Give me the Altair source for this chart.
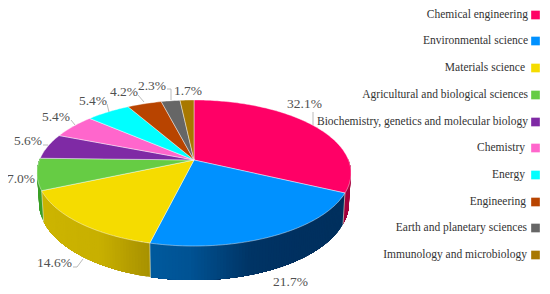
import numpy as np
import altair as alt

categories = ["Chemical engineering", "Environmental science", "Materials science",
              "Agricultural and biological sciences", "Biochemistry, genetics and molecular biology",
              "Chemistry", "Energy", "Engineering", "Earth and planetary sciences",
              "Immunology and microbiology"]
values = [32.1, 21.7, 14.6, 7.0, 5.6, 5.4, 5.4, 4.2, 2.3, 1.7]
colors = ["#FF0066", "#0091FF", "#F5DC00", "#66CC44", "#7F2AA5",
          "#FF66CC", "#00FFFF", "#B84400", "#666666", "#A87800"]
labels = ["32.1%", "21.7%", "14.6%", "7.0%", "5.6%", "5.4%", "5.4%", "4.2%", "2.3%", "1.7%"]

# --- layout only (page pixels; the page margin is removed below) ---
M = 8
CX, CY = 194.0, 160.0
A, B, K = 154.5, 70.7, 0.178
A2, B2, Y2 = 152.5, 74.9, 189.0
label_xy = [(304.5, 104), (290.5, 282), (54.5, 263), (21, 179), (28, 141),
            (56, 117), (93, 101), (124, 92), (152, 86), (188, 91)]
legend_y = [15, 41, 68, 95, 122, 148, 175, 202, 228, 255]
legend_right = [528, 528, 525, 528, 528, 525, 525, 526, 527, 527]
leaders = [[(313, 112), (313, 125)],
           [(73, 267), (77, 267), (83, 259)],
           [(43, 145), (48, 145)],
           [(71, 120), (75, 125)],
           [(107, 104), (109, 112)],
           [(138, 95), (144, 102)],
           [(167, 89), (171, 89), (171, 100)]]
side_stops = {
    0: [(330, "#8A0038"), (350, "#A8003E")],
    1: [(150, "#005A9E"), (190, "#005394"), (250, "#003566"), (300, "#003060"), (350, "#00305E")],
    2: [(42, "#CDB500"), (100, "#C8B000"), (125, "#B8A000"), (152, "#A69000")],
    3: [(30, "#3CA028"), (50, "#3CA028")],
}


def top(theta):
    s, c = np.sin(theta), np.cos(theta)
    d = 1 + K * c
    return CX + A * s / d - M, CY - B * c / d - M


def bottom(theta):
    s, c = np.sin(theta), np.cos(theta)
    d = 1 + K * c
    return CX + A2 * s / d - M, Y2 - B2 * c / d - M


def feature(kind, coords, color):
    return {"type": "Feature", "properties": {"c": color},
            "geometry": {"type": kind, "coordinates": coords}}


edges = np.radians(np.concatenate([[0], np.cumsum(values)]) * 3.6)

side, top_faces, seams = [], [], []
for i, (a0, a1) in enumerate(zip(edges[:-1], edges[1:])):
    # upper face of the slice
    ts = np.linspace(a0, a1, max(4, int(np.degrees(a1 - a0))))
    ring = [[CX - M, CY - M]] + [[float(p) for p in top(t)] for t in ts] + [[CX - M, CY - M]]
    top_faces.append(feature("Polygon", [ring], colors[i]))
    # rim of the slice: painted from the far end so each band overlaps the last
    if i in side_stops:
        lo = max(a0, np.radians(88))
        hi = min(a1, np.radians(272))
        if hi > lo:
            steps = np.linspace(lo, hi, int(np.degrees(hi - lo)) + 2)
            sx = [p[0] for p in side_stops[i]]
            rgb = [[int(p[1][j:j + 2], 16) for j in (1, 3, 5)] for p in side_stops[i]]
            for n in range(len(steps) - 1):
                t0, t1 = steps[n], steps[n + 1]
                xm = top((t0 + t1) / 2)[0] + M
                col = "#%02x%02x%02x" % tuple(int(np.interp(xm, sx, [r[j] for r in rgb])) for j in range(3))
                # each band reaches back to the end of the slice; the next band paints over it
                tail = np.linspace(t0, hi, max(2, int(np.degrees(hi - t0)) + 1))
                q = [top(t) for t in tail] + [bottom(t) for t in tail[::-1]] + [top(t0)]
                side.append(feature("Polygon", [[[float(v) for v in p] for p in q]], col))
    if np.radians(100) < a1 < np.radians(260):
        seams.append(feature("LineString", [[float(v) for v in top(a1)], [float(v) for v in bottom(a1)]], "#e8e8d0"))

PROJ = dict(type="identity", scale=1, translate=[0, 0])


def geo(feats):
    return alt.Data(values={"type": "FeatureCollection", "features": feats},
                    format=alt.DataFormat(property="features", type="json"))


side_layer = alt.Chart(geo(side)).mark_geoshape(strokeWidth=0).encode(
    fill=alt.Fill("properties.c:N", scale=None, legend=None),
).project(**PROJ)

seam_layer = alt.Chart(geo(seams)).mark_geoshape(filled=False, strokeWidth=0.8, strokeOpacity=0.8, stroke="#e8e8d0").project(**PROJ)

top_layer = alt.Chart(geo(top_faces)).mark_geoshape(
    stroke="#ffffff", strokeWidth=0.7, strokeOpacity=0.6, strokeJoin="round"
).encode(fill=alt.Fill("properties.c:N", scale=None, legend=None)).project(**PROJ)

leader_layer = alt.Chart(geo([
    feature("LineString", [[x - M, y - M] for x, y in line], "#aaaaaa") for line in leaders
])).mark_geoshape(filled=False, stroke="#a8a8a8", strokeWidth=0.8).project(**PROJ)

X = lambda f: alt.X(f, scale=None, axis=None)
Y = lambda f: alt.Y(f, scale=None, axis=None)

pct_layer = alt.Chart(alt.Data(values=[
    {"t": t, "x": p[0] - M, "y": p[1] - M} for t, p in zip(labels, label_xy)
])).mark_text(font="Liberation Serif", fontSize=13.5, color="#505050", align="center", baseline="middle").encode(
    x=X("x:Q"), y=Y("y:Q"), text="t:N")

legend_text = alt.Chart(alt.Data(values=[
    {"t": t, "x": x - M, "y": y - M} for t, x, y in zip(categories, legend_right, legend_y)
])).mark_text(font="Liberation Serif", fontSize=11.5, color="#333333", align="right", baseline="middle").encode(
    x=X("x:Q"), y=Y("y:Q"), text="t:N")

legend_marks = alt.Chart(alt.Data(values=[
    {"c": c, "x": 535.5 - M, "y": y - M} for c, y in zip(colors, legend_y)
])).mark_square(size=75, opacity=1, filled=True).encode(
    x=X("x:Q"), y=Y("y:Q"), color=alt.Color("c:N", scale=None, legend=None))

chart = alt.layer(side_layer, seam_layer, top_layer, leader_layer, pct_layer, legend_text, legend_marks).properties(
    width=534, height=282, padding=0, autosize=alt.AutoSizeParams(type="none")
).configure_view(stroke=None)

chart.save("out.html", embed_options={"renderer": "svg", "actions": False})
